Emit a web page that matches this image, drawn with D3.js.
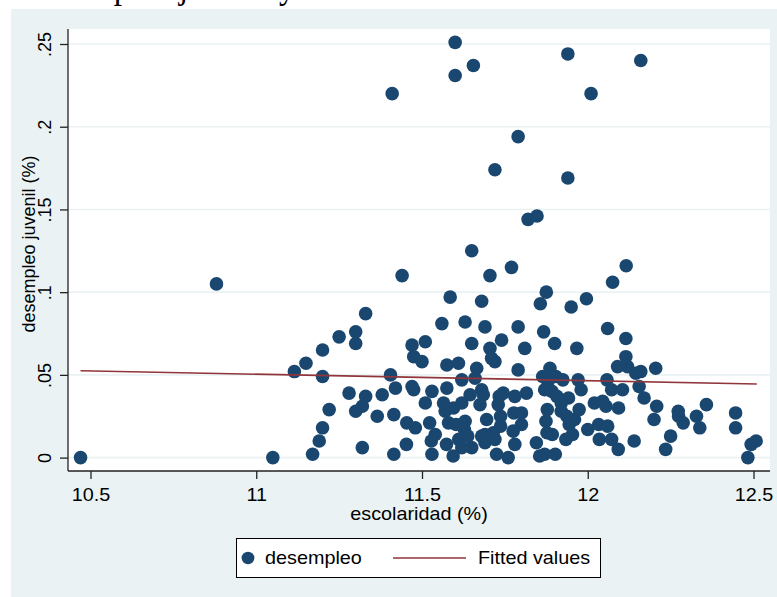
<!DOCTYPE html>
<html>
<head>
<meta charset="utf-8">
<script src="https://cdn.jsdelivr.net/npm/d3@7"></script>
<style>
  body { margin: 0; background: #fff; }
  text { font-family: "Liberation Sans", Arial, sans-serif; }
</style>
</head>
<body>
<script>
const width = 777;
const height = 597;
const margin = { top: 29, right: 7, bottom: 126, left: 68 };
const stretch = 1.1; // text in the picture is a little wider than tall

// escolaridad (%) and desempleo juvenil (%) for each point
const escolaridad = [
  11.60, 11.655, 11.60, 11.41, 11.79, 11.72, 11.82, 11.847, 11.65, 11.94,
  12.16, 12.01, 11.94, 10.88, 10.47, 11.05, 11.115, 11.15, 11.20, 11.20,
  11.25, 11.30, 11.30, 11.33, 11.44, 11.405, 11.28, 11.33, 11.32, 11.30,
  11.22, 11.20, 11.19, 11.17, 11.38, 11.365, 11.32, 11.42, 11.415, 11.415,
  11.47, 11.51, 11.475, 11.50, 11.56, 11.585, 11.63, 11.68, 11.69, 11.65,
  11.705, 11.77, 11.79, 11.875, 11.857, 11.867, 11.90, 11.81, 11.74, 11.705,
  11.71, 11.72, 11.79, 11.575, 11.61, 11.665, 11.62, 11.66, 11.47, 11.475,
  11.53, 11.575, 11.51, 11.565, 11.57, 11.595, 11.62, 11.645, 11.68, 11.685,
  11.675, 11.733, 11.745, 11.73, 11.78, 11.815, 11.777, 11.80, 11.737, 11.695,
  11.80, 11.775, 11.737, 11.715, 11.69, 11.72, 11.69, 11.78, 11.845, 11.65,
  11.62, 11.594, 11.53, 11.574, 11.453, 11.454, 11.48, 11.523, 11.54, 11.528,
  11.58, 11.603, 11.63, 11.628, 11.638, 11.611, 11.68, 11.76, 11.725, 11.877,
  11.874, 11.878, 11.893, 11.87, 11.902, 11.886, 11.864, 11.88, 11.87, 11.892,
  11.907, 12.116, 12.075, 11.996, 11.95, 11.967, 12.06, 12.115, 12.115, 12.09,
  12.12, 12.145, 11.904, 11.925, 11.971, 11.98, 12.058, 12.072, 12.105, 11.942,
  11.92, 12.02, 12.045, 12.055, 12.093, 11.974, 11.92, 11.937, 11.96, 11.944,
  12.0, 12.033, 12.06, 11.954, 12.035, 12.072, 12.092, 11.934, 12.14, 12.16,
  12.205, 12.155, 12.17, 12.208, 12.20, 12.273, 12.274, 12.288, 12.328, 12.338,
  12.358, 12.25, 12.235, 12.446, 12.446, 12.508, 12.493, 12.483, 11.855
];
const desempleo = [
  0.251, 0.237, 0.231, 0.220, 0.194, 0.174, 0.144, 0.146, 0.125, 0.244,
  0.240, 0.220, 0.169, 0.105, 0.0, 0.0, 0.052, 0.057, 0.065, 0.049,
  0.073, 0.076, 0.069, 0.087, 0.110, 0.050, 0.039, 0.037, 0.031, 0.028,
  0.029, 0.018, 0.010, 0.002, 0.038, 0.025, 0.006, 0.042, 0.026, 0.002,
  0.068, 0.070, 0.061, 0.058, 0.081, 0.097, 0.082, 0.0945, 0.079, 0.069,
  0.110, 0.115, 0.079, 0.100, 0.093, 0.076, 0.069, 0.066, 0.071, 0.066,
  0.060, 0.058, 0.053, 0.056, 0.057, 0.054, 0.047, 0.048, 0.043, 0.041,
  0.040, 0.042, 0.033, 0.033, 0.028, 0.030, 0.033, 0.038, 0.041, 0.038,
  0.032, 0.037, 0.039, 0.032, 0.037, 0.039, 0.027, 0.027, 0.025, 0.023,
  0.020, 0.016, 0.019, 0.015, 0.014, 0.011, 0.009, 0.008, 0.009, 0.006,
  0.006, 0.001, 0.002, 0.008, 0.008, 0.021, 0.018, 0.021, 0.014, 0.010,
  0.021, 0.020, 0.022, 0.017, 0.013, 0.011, 0.013, 0.0, 0.002, 0.015,
  0.022, 0.029, 0.014, 0.002, 0.002, 0.054, 0.049, 0.046, 0.041, 0.040,
  0.037, 0.116, 0.106, 0.096, 0.091, 0.066, 0.078, 0.072, 0.061, 0.055,
  0.055, 0.051, 0.049, 0.047, 0.047, 0.041, 0.047, 0.041, 0.041, 0.036,
  0.033, 0.033, 0.034, 0.031, 0.030, 0.029, 0.028, 0.025, 0.023, 0.020,
  0.017, 0.020, 0.019, 0.014, 0.011, 0.011, 0.005, 0.011, 0.010, 0.052,
  0.054, 0.043, 0.036, 0.031, 0.023, 0.028, 0.025, 0.021, 0.025, 0.018,
  0.032, 0.013, 0.005, 0.027, 0.018, 0.010, 0.008, 0.0, 0.001
];

// fitted values line, read at both ends
const fitX = [10.47, 12.51];
const fitY = [0.0525, 0.0445];

const xTicks = [10.5, 11, 11.5, 12, 12.5];
const yTicks = [0, 0.05, 0.1, 0.15, 0.2, 0.25];
const yTickLabels = ["0", ".05", ".1", ".15", ".2", ".25"];

const navy = "#1a476f";
const maroon = "#90353b";
const bg = "#eaf2f3";

const svg = d3.select("body")
    .append("svg")
    .attr("width", width)
    .attr("height", height)
    .style("display", "block");

// caption above the graph, only its descenders are inside the picture
svg.append("text")
    .attr("transform", "translate(22, -2.5) scale(0.87,1)")
    .style("font-family", "'Liberation Serif', 'Times New Roman', serif")
    .style("font-size", "38px")
    .text("Desempleo juvenil y escolaridad");

// graph region
svg.append("rect")
    .attr("x", 11).attr("y", 9)
    .attr("width", width - 11).attr("height", height - 9)
    .attr("fill", bg);

const plotBottom = height - margin.bottom; // 471
const plotRight = width - margin.right;    // 770

svg.append("rect")
    .attr("x", margin.left).attr("y", margin.top)
    .attr("width", plotRight - margin.left)
    .attr("height", plotBottom - margin.top)
    .attr("fill", "#fff");

let xScale = d3.scaleLinear()
    .domain([10.5, 12.5])
    .range([90.5, 753.5]);
let yScale = d3.scaleLinear()
    .domain([0, 0.25])
    .range([457.6, 44]);

// grid lines
svg.append("g")
    .selectAll("line")
    .data(yTicks)
    .enter()
    .append("line")
    .attr("x1", margin.left).attr("x2", plotRight)
    .attr("y1", d => yScale(d)).attr("y2", d => yScale(d))
    .attr("stroke", bg)
    .attr("stroke-width", 1.6);

// axes
let xAxis = d3.axisBottom(xScale)
    .tickValues(xTicks)
    .tickFormat(d3.format("~g"))
    .tickSize(8)
    .tickSizeOuter(0);
let yAxis = d3.axisLeft(yScale)
    .tickValues(yTicks)
    .tickFormat((d, i) => yTickLabels[i])
    .tickSize(8)
    .tickSizeOuter(0);

const gx = svg.append("g")
    .attr("transform", `translate(0, ${plotBottom})`)
    .call(xAxis);
gx.select(".domain").attr("d", `M${margin.left},0H${plotRight}`);
gx.selectAll(".tick text")
    .attr("y", 30)
    .attr("dy", null)
    .attr("transform", `scale(${stretch},1)`)
    .style("font-size", "18px")
    .attr("fill", "#000");

const gy = svg.append("g")
    .attr("transform", `translate(${margin.left}, 0)`)
    .call(yAxis);
gy.select(".domain").attr("d", `M0,${margin.top}V${plotBottom}`);
gy.selectAll(".tick text")
    .attr("x", null).attr("dy", null)
    .attr("text-anchor", "middle")
    .attr("transform", "translate(-17, 0) rotate(-90)")
    .style("font-size", "18px")
    .attr("fill", "#000");

svg.selectAll(".domain, .tick line")
    .attr("stroke", "#222")
    .attr("stroke-width", 1.3);

// axis titles
svg.append("text")
    .attr("transform", `translate(419, 520) scale(${stretch},1)`)
    .attr("text-anchor", "middle")
    .style("font-size", "18px")
    .text("escolaridad (%)");

svg.append("text")
    .attr("transform", "translate(35, 244) rotate(-90)")
    .attr("text-anchor", "middle")
    .style("font-size", "18px")
    .text("desempleo juvenil (%)");

// points
svg.append("g")
    .selectAll("circle")
    .data(escolaridad.map((x, i) => [x, desempleo[i]]))
    .enter()
    .append("circle")
    .attr("cx", d => xScale(d[0]))
    .attr("cy", d => yScale(d[1]))
    .attr("r", 6.8)
    .attr("fill", navy);

// fitted values
svg.append("path")
    .datum(fitX.map((x, i) => [x, fitY[i]]))
    .attr("d", d3.line().x(d => xScale(d[0])).y(d => yScale(d[1])))
    .attr("fill", "none")
    .attr("stroke", maroon)
    .attr("stroke-width", 1.6);

// legend
const legend = svg.append("g");
legend.append("rect")
    .attr("x", 236.5).attr("y", 538.5)
    .attr("width", 364).attr("height", 39)
    .attr("fill", "#fff")
    .attr("stroke", "#000")
    .attr("stroke-width", 1);
legend.append("ellipse")
    .attr("cx", 248).attr("cy", 558)
    .attr("rx", 6.4).attr("ry", 6.2)
    .attr("fill", navy);
legend.append("text")
    .attr("transform", `translate(265, 564) scale(${stretch},1)`)
    .style("font-size", "18px")
    .text("desempleo");
legend.append("line")
    .attr("x1", 393).attr("x2", 466)
    .attr("y1", 558).attr("y2", 558)
    .attr("stroke", maroon)
    .attr("stroke-width", 1.6);
legend.append("text")
    .attr("transform", `translate(478, 564) scale(${stretch},1)`)
    .style("font-size", "18px")
    .text("Fitted values");
</script>
</body>
</html>
